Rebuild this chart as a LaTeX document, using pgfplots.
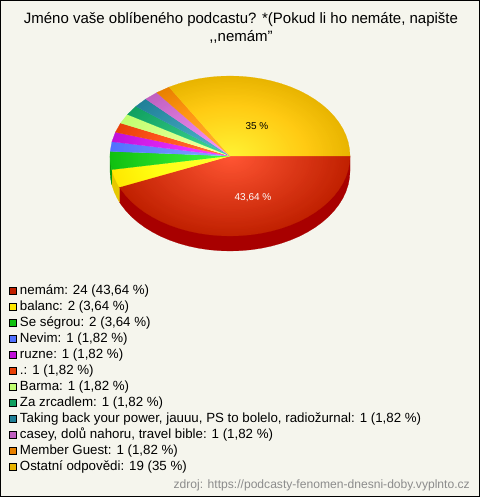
\documentclass[border=0pt]{standalone}
\usepackage{pgfplots}
\pgfplotsset{compat=1.18}
\usepackage{fontspec}
\setmainfont{Liberation Sans}
\definecolor{bgc}{HTML}{F5F5ED}
\definecolor{cA}{HTML}{C02000}\definecolor{cAw}{HTML}{A80000}
\definecolor{cB}{HTML}{FFE800}\definecolor{cBw}{HTML}{E6C800}
\definecolor{cC}{HTML}{10C010}\definecolor{cCw}{HTML}{0A9A0A}
\definecolor{cD}{HTML}{5070FF}
\definecolor{cE}{HTML}{C010D8}
\definecolor{cF}{HTML}{E84008}
\definecolor{cG}{HTML}{C0FF70}
\definecolor{cH}{HTML}{10A060}
\definecolor{cI}{HTML}{208098}
\definecolor{cJ}{HTML}{C060C0}
\definecolor{cK}{HTML}{E88000}
\definecolor{cL}{HTML}{E8B400}
\definecolor{glow}{gray}{0.25}
\definecolor{glowb}{gray}{0.2}
\pgfdeclareradialshading{pieglow}{\pgfpoint{0bp}{0bp}}{color(0bp)=(glow); color(25bp)=(black); color(100bp)=(black)}
\pgfdeclareradialshading{pieglowb}{\pgfpoint{0bp}{0bp}}{color(0bp)=(glowb); color(25bp)=(black); color(100bp)=(black)}
\begin{document}
\begin{tikzpicture}
\begin{axis}[
  scale only axis, width=480bp, height=497bp,
  xmin=-230, xmax=250, ymin=-341, ymax=156,
  hide axis, clip=false, no marks,
  area legend,
  legend image code/.code={\draw[#1,draw=black,line width=0.8bp] (0bp,-3.1bp) rectangle (7bp,3.9bp);},
  legend cell align=left,
  legend style={at={(9/480,1-285.5/497)},anchor=north west,draw=none,fill=none,inner sep=0pt,outer sep=0pt,
    font=\fontsize{13.3bp}{15bp}\selectfont,row sep=4bp,
    nodes={inner sep=0pt,outer sep=0pt,text height=9bp,text depth=3bp},
    /tikz/every odd column/.style={column sep=3.2bp}},
]
% frame
\addplot[forget plot,draw=black,fill=bgc,line width=1bp] coordinates {(-229.5,-340.5)(249.5,-340.5)(249.5,155.5)(-229.5,155.5)} --cycle;
% side walls
\addplot[forget plot,draw=cAw,fill=cAw,line width=0.2bp] coordinates {(0,0)(120,0)(120,-15)(119.54,-21.97)(118.18,-28.89)(115.91,-35.71)(112.76,-42.36)(108.76,-48.81)(103.92,-55)(98.30,-60.89)(91.92,-66.42)(84.85,-71.57)(77.13,-76.28)(68.83,-80.53)(60,-84.28)(50.71,-87.5)(41.04,-90.18)(31.06,-92.27)(20.84,-93.78)(10.46,-94.7)(0,-95)(-10.46,-94.7)(-20.84,-93.78)(-31.06,-92.27)(-41.04,-90.18)(-50.71,-87.5)(-60,-84.28)(-68.83,-80.53)(-77.13,-76.28)(-84.85,-71.57)(-91.92,-66.42)(-98.3,-60.89)(-103.92,-55)(-108.76,-48.81)(-110.55,-46.13)(-110.55,-31.13)} --cycle;
\addplot[forget plot,draw=cBw,fill=cBw,line width=0.2bp] coordinates {(-110.55,-31.13)(-110.55,-46.13)(-112.76,-42.36)(-115.91,-35.71)(-118.25,-28.62)(-118.25,-13.62)} --cycle;
\addplot[forget plot,draw=cCw,fill=cCw,line width=0.2bp] coordinates {(-118.25,-13.62)(-118.25,-28.62)(-119.54,-21.97)(-120,-15)(-120,0)} --cycle;
% top face wedges
\addplot[draw=cA,fill=cA,line width=0.2bp] coordinates {(0,0)(120,0)(119.54,-6.97)(118.18,-13.89)(115.91,-20.71)(112.76,-27.36)(108.76,-33.81)(103.92,-40)(98.30,-45.89)(91.92,-51.42)(84.85,-56.57)(77.13,-61.28)(68.83,-65.53)(60,-69.28)(50.71,-72.50)(41.04,-75.18)(31.06,-77.27)(20.84,-78.78)(10.46,-79.70)(0,-80)(-10.46,-79.70)(-20.84,-78.78)(-31.06,-77.27)(-41.04,-75.18)(-50.71,-72.50)(-60,-69.28)(-68.83,-65.53)(-77.13,-61.28)(-84.85,-56.57)(-91.92,-51.42)(-98.30,-45.89)(-103.92,-40)(-108.76,-33.81)(-110.55,-31.13)} --cycle;
\addlegendentry{nemám: 24 (43,64 \%)}
\addplot[draw=cB,fill=cB,line width=0.2bp] coordinates {(0,0)(-110.55,-31.13)(-112.76,-27.36)(-115.91,-20.71)(-118.25,-13.62)} --cycle;
\addlegendentry{balanc: 2 (3,64 \%)}
\addplot[draw=cC,fill=cC,line width=0.2bp] coordinates {(0,0)(-118.25,-13.62)(-119.54,-6.97)(-120,0)(-119.80,4.60)} --cycle;
\addlegendentry{Se ségrou: 2 (3,64 \%)}
\addplot[draw=cD,fill=cD,line width=0.2bp] coordinates {(0,0)(-119.80,4.60)(-118.07,14.30)} --cycle;
\addlegendentry{Nevim: 1 (1,82 \%)}
\addplot[draw=cE,fill=cE,line width=0.2bp] coordinates {(0,0)(-118.07,14.30)(-114.57,23.79)} --cycle;
\addlegendentry{ruzne: 1 (1,82 \%)}
\addplot[draw=cF,fill=cF,line width=0.2bp] coordinates {(0,0)(-114.57,23.79)(-109.37,32.92)} --cycle;
\addlegendentry{.: 1 (1,82 \%)}
\addplot[draw=cG,fill=cG,line width=0.2bp] coordinates {(0,0)(-109.37,32.92)(-102.54,41.56)} --cycle;
\addlegendentry{Barma: 1 (1,82 \%)}
\addplot[draw=cH,fill=cH,line width=0.2bp] coordinates {(0,0)(-102.54,41.56)(-94.17,49.58)} --cycle;
\addlegendentry{Za zrcadlem: 1 (1,82 \%)}
\addplot[draw=cI,fill=cI,line width=0.2bp] coordinates {(0,0)(-94.17,49.58)(-84.26,56.96)} --cycle;
\addlegendentry{Taking back your power, jauuu, PS to bolelo, radiožurnal: 1 (1,82 \%)}
\addplot[draw=cJ,fill=cJ,line width=0.2bp] coordinates {(0,0)(-84.26,56.96)(-73.19,63.40)} --cycle;
\addlegendentry{casey, dolů nahoru, travel bible: 1 (1,82 \%)}
\addplot[draw=cK,fill=cK,line width=0.2bp] coordinates {(0,0)(-73.19,63.40)(-60.90,68.93)} --cycle;
\addlegendentry{Member Guest: 1 (1,82 \%)}
\addplot[draw=cL,fill=cL,line width=0.2bp] coordinates {(0,0)(-60.90,68.93)(-60,69.28)(-50.71,72.5)(-41.04,75.18)(-31.06,77.27)(-20.84,78.78)(-10.46,79.70)(0,80)(10.46,79.70)(20.84,78.78)(31.06,77.27)(41.04,75.18)(50.71,72.5)(60,69.28)(68.83,65.53)(77.13,61.28)(84.85,56.57)(91.92,51.42)(98.3,45.89)(103.92,40)(108.76,33.81)(112.76,27.36)(115.91,20.71)(118.18,13.89)(119.54,6.97)(120,0)} --cycle;
\addlegendentry{Ostatní odpovědi: 19 (35 \%)}
% radial glow over the top face
\addplot[forget plot,draw=none,shade,shading=pieglow,blend mode=color dodge] coordinates {(120,0)(119.54,6.97)(118.18,13.89)(115.91,20.71)(112.76,27.36)(108.76,33.81)(103.92,40)(98.3,45.89)(91.92,51.42)(84.85,56.57)(77.13,61.28)(68.83,65.53)(60,69.28)(50.71,72.5)(41.04,75.18)(31.06,77.27)(20.84,78.78)(10.46,79.70)(0,80)(-10.46,79.70)(-20.84,78.78)(-31.06,77.27)(-41.04,75.18)(-50.71,72.5)(-60,69.28)(-68.83,65.53)(-77.13,61.28)(-84.85,56.57)(-91.92,51.42)(-98.3,45.89)(-103.92,40)(-108.76,33.81)(-112.76,27.36)(-115.91,20.71)(-118.18,13.89)(-119.54,6.97)(-120,0)(-119.54,-6.97)(-118.18,-13.89)(-115.91,-20.71)(-112.76,-27.36)(-108.76,-33.81)(-103.92,-40)(-98.30,-45.89)(-91.92,-51.42)(-84.85,-56.57)(-77.13,-61.28)(-68.83,-65.53)(-60,-69.28)(-50.71,-72.50)(-41.04,-75.18)(-31.06,-77.27)(-20.84,-78.78)(-10.46,-79.70)(0,-80)(10.46,-79.70)(20.84,-78.78)(31.06,-77.27)(41.04,-75.18)(50.71,-72.50)(60,-69.28)(68.83,-65.53)(77.13,-61.28)(84.85,-56.57)(91.92,-51.42)(98.30,-45.89)(103.92,-40)(108.76,-33.81)(112.76,-27.36)(115.91,-20.71)(118.18,-13.89)(119.54,-6.97)} --cycle;
\addplot[forget plot,draw=none,shade,shading=pieglowb,blend mode=screen] coordinates {(120,0)(119.54,6.97)(118.18,13.89)(115.91,20.71)(112.76,27.36)(108.76,33.81)(103.92,40)(98.3,45.89)(91.92,51.42)(84.85,56.57)(77.13,61.28)(68.83,65.53)(60,69.28)(50.71,72.5)(41.04,75.18)(31.06,77.27)(20.84,78.78)(10.46,79.70)(0,80)(-10.46,79.70)(-20.84,78.78)(-31.06,77.27)(-41.04,75.18)(-50.71,72.5)(-60,69.28)(-68.83,65.53)(-77.13,61.28)(-84.85,56.57)(-91.92,51.42)(-98.3,45.89)(-103.92,40)(-108.76,33.81)(-112.76,27.36)(-115.91,20.71)(-118.18,13.89)(-119.54,6.97)(-120,0)(-119.54,-6.97)(-118.18,-13.89)(-115.91,-20.71)(-112.76,-27.36)(-108.76,-33.81)(-103.92,-40)(-98.30,-45.89)(-91.92,-51.42)(-84.85,-56.57)(-77.13,-61.28)(-68.83,-65.53)(-60,-69.28)(-50.71,-72.50)(-41.04,-75.18)(-31.06,-77.27)(-20.84,-78.78)(-10.46,-79.70)(0,-80)(10.46,-79.70)(20.84,-78.78)(31.06,-77.27)(41.04,-75.18)(50.71,-72.50)(60,-69.28)(68.83,-65.53)(77.13,-61.28)(84.85,-56.57)(91.92,-51.42)(98.30,-45.89)(103.92,-40)(108.76,-33.81)(112.76,-27.36)(115.91,-20.71)(118.18,-13.89)(119.54,-6.97)} --cycle;
% texts
\node[font=\fontsize{15bp}{18bp}\selectfont,align=center,inner sep=0pt] at (axis cs:11,128.5) {Jméno vaše oblíbeného podcastu? *(Pokud li ho nemáte, napište\\,{},nemám\symbol{34}};
\node[font=\fontsize{10bp}{12bp}\selectfont,text=black,inner sep=0pt] at (axis cs:27,30) {35 \%};
\node[font=\fontsize{10bp}{12bp}\selectfont,text=white,inner sep=0pt] at (axis cs:23,-41.5) {43,64 \%};
\node[font=\fontsize{12.1bp}{14bp}\selectfont,text=black!45,anchor=east,inner sep=0pt] at (axis cs:240,-329.5) {zdroj: https://podcasty-fenomen-dnesni-doby.vyplnto.cz};
\end{axis}
\end{tikzpicture}
\end{document}
